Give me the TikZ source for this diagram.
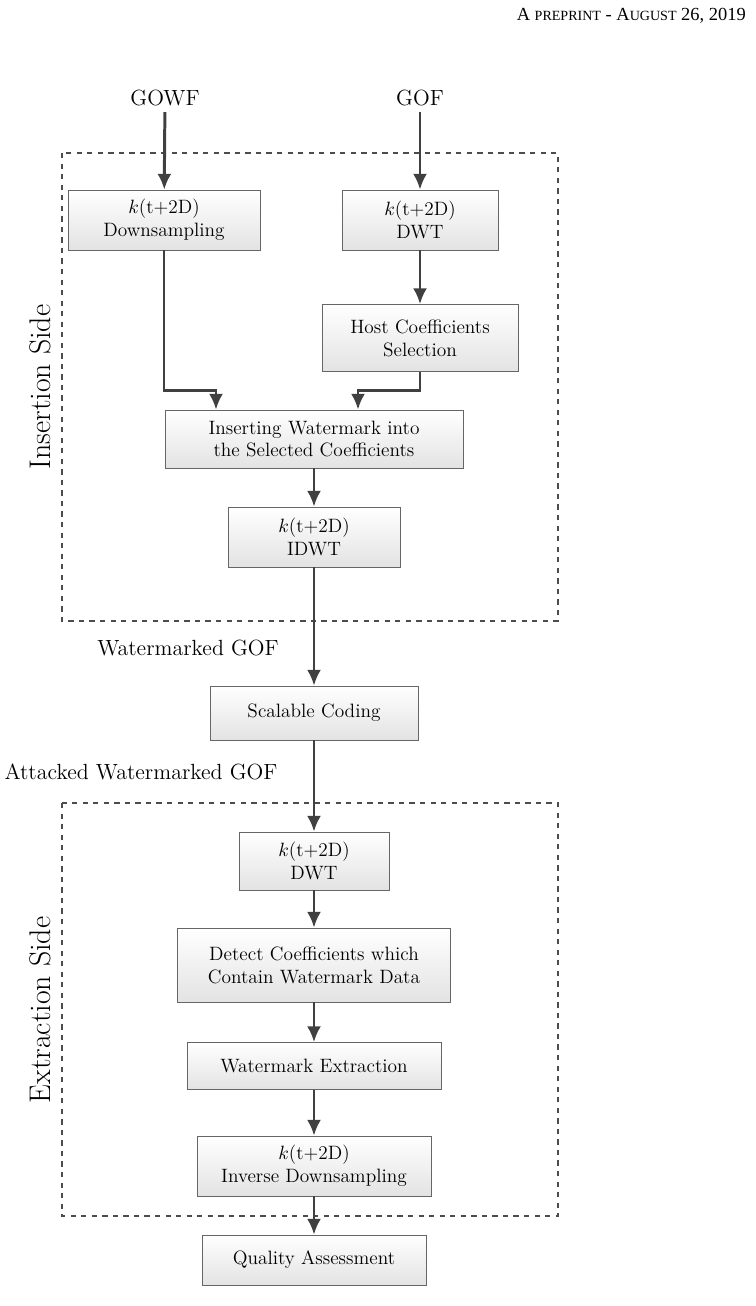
\documentclass[tikz,border=0pt]{standalone}
\usepackage{fontspec}
\newfontfamily\headfont{Liberation Serif}
\usetikzlibrary{arrows.meta,positioning}
\tikzset{
	blk/.style={draw=gray!80!black, top color=white, bottom color=gray!22, align=center, font=\fontsize{11}{13}\selectfont, inner sep=2pt},
	flow/.style={draw=black!75, line width=1.7pt, -{Latex[length=9pt,width=8pt]}},
	side/.style={draw=black!70, dashed, thick},
	lbl/.style={font=\fontsize{12.5}{14}\selectfont}
}
\newcommand{\fsc}[1]{{\fontsize{8}{10}\selectfont #1}}
\begin{document}
\begin{tikzpicture}[x=0.02cm,y=-0.02cm]
				\useasboundingbox (0,0) rectangle (756,1306);
				\node[anchor=east, font=\headfont\fontsize{10.5}{12}\selectfont] (head) at (752,16) {A \fsc{PREPRINT} - A\fsc{UGUST} 26, 2019};
				
				% insertion side
				\draw[side] (62,153) rectangle (558,621);
				\node[rotate=90, font=\fontsize{17}{20}\selectfont] (ins) at (40,387) {Insertion Side};
				\node[lbl] (gowf) at (165,98) {GOWF};
				\node[lbl] (gof) at (420,98) {GOF};
				\node[blk, minimum width=3.84cm, minimum height=1.2cm] (down) at (164,220) {$k$(t+2D)\\Downsampling};
				\node[blk, minimum width=3.12cm, minimum height=1.2cm] (dwt) at (420,220) {$k$(t+2D)\\DWT};
				\node[blk, minimum width=3.92cm, minimum height=1.34cm] (host) at (420,338) {Host Coefficients\\Selection};
				\node[blk, minimum width=5.96cm, minimum height=1.16cm] (ins1) at (314,439) {Inserting Watermark into\\the Selected Coefficients};
				\node[blk, minimum width=3.44cm, minimum height=1.2cm] (idwt) at (314,537) {$k$(t+2D)\\IDWT};
				\coordinate (c1) at (164,390);
				\coordinate (c2) at (420,390);
				\coordinate (c3) at (216,390);
				\coordinate (c4) at (358,390);
				\draw[flow] (gowf) -- (down);
				\draw[flow] (gof) -- (dwt);
				\draw[flow] (dwt) -- (host);
				\draw[flow] (down.south) -- (c1) -- (c3) -- (c3 |- ins1.north);
				\draw[flow] (host.south) -- (c2) -- (c4) -- (c4 |- ins1.north);
				\draw[flow] (ins1) -- (idwt);
				
				\node[lbl] (wgof) at (188,648) {Watermarked GOF};
				\node[blk, minimum width=4.16cm, minimum height=1.08cm] (code) at (314,713) {Scalable Coding};
				\node[lbl] (agof) at (141,772) {Attacked Watermarked GOF};
				\draw[flow] (idwt) -- (code);
				
				% extraction side
				\draw[side] (62,803) rectangle (558,1216);
				\node[rotate=90, font=\fontsize{17}{20}\selectfont] (ext) at (40,1010) {Extraction Side};
				\node[blk, minimum width=3cm, minimum height=1.16cm] (dwt2) at (314,861) {$k$(t+2D)\\DWT};
				\node[blk, minimum width=5.46cm, minimum height=1.48cm] (det) at (314,965) {Detect Coefficients which\\Contain Watermark Data};
				\node[blk, minimum width=5.08cm, minimum height=0.94cm] (wext) at (314,1066) {Watermark Extraction};
				\node[blk, minimum width=4.68cm, minimum height=1.2cm] (inv) at (314,1166) {$k$(t+2D)\\Inverse Downsampling};
				\node[blk, minimum width=4.48cm, minimum height=1cm] (qual) at (314,1260) {Quality Assessment};
				\draw[flow] (code) -- (dwt2);
				\draw[flow] (dwt2) -- (det);
				\draw[flow] (det) -- (wext);
				\draw[flow] (wext) -- (inv);
				\draw[flow] (inv) -- (qual);
			\end{tikzpicture}
\end{document}
